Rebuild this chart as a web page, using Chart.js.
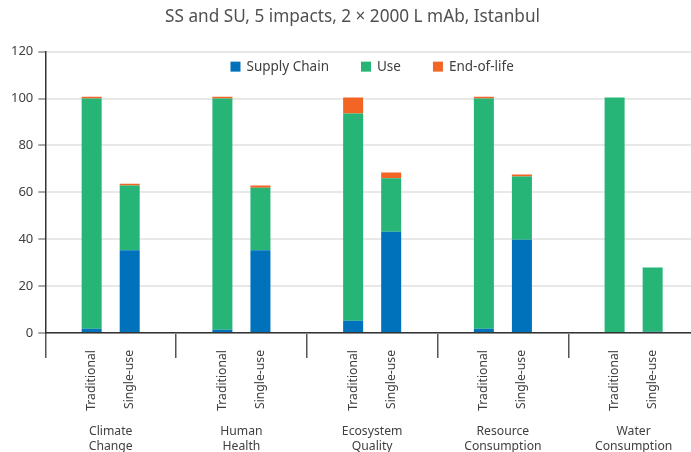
<!DOCTYPE html>
<html>
<head>
<meta charset="utf-8">
<script src="https://cdn.jsdelivr.net/npm/chart.js@4"></script>
<style>
  html, body { margin: 0; padding: 0; background: #fff; overflow: hidden; }
  #wrap { width: 700px; height: 452px; }
</style>
</head>
<body>
<div id="wrap"><canvas id="impactChart" width="700" height="452"></canvas></div>
<script>
const categories = [["Climate", "Change"], ["Human", "Health"], ["Ecosystem", "Quality"], ["Resource", "Consumption"], ["Water", "Consumption"]];
const systems = ["Traditional", "Single-use"];
const phases = ["Supply Chain", "Use", "End-of-life"];

const tradSupply = [1.8, 1.4, 5.2, 1.8, 0];
const tradUse = [98.2, 98.6, 88.4, 98.2, 100.4];
const tradEol = [0.8, 0.8, 6.8, 0.8, 0];

const suSupply = [35.3, 35.3, 43.2, 39.8, 0.5];
const suUse = [27.6, 26.6, 22.8, 26.9, 27.4];
const suEol = [0.8, 1.0, 2.4, 0.9, 0];

const yTicks = [0, 20, 40, 60, 80, 100, 120];

const colors = ["#0071bb", "#27b577", "#f26524"];
const FONT = "'Noto Sans', 'Open Sans', sans-serif";

function makeSet(label, data, color, stack) {
    return {
        label: label,
        data: data,
        backgroundColor: color,
        stack: stack,
        categoryPercentage: 0.582,
        barPercentage: 0.526
    };
}

const datasets = [
    makeSet(phases[0], tradSupply, colors[0], systems[0]),
    makeSet(phases[1], tradUse, colors[1], systems[0]),
    makeSet(phases[2], tradEol, colors[2], systems[0]),
    makeSet(phases[0], suSupply, colors[0], systems[1]),
    makeSet(phases[1], suUse, colors[1], systems[1]),
    makeSet(phases[2], suEol, colors[2], systems[1])
];

// legend drawn inside the plot area, plus rotated system labels under each bar
const extras = {
    id: "extras",
    afterDraw(chart) {
        const ctx = chart.ctx;
        const area = chart.chartArea;
        ctx.save();

        // legend
        ctx.font = "13.5px " + FONT;
        ctx.textBaseline = "middle";
        ctx.textAlign = "left";
        const box = 10, gapText = 6, gapItem = 32;
        let total = 0;
        phases.forEach((p, i) => {
            total += box + gapText + ctx.measureText(p).width + (i < phases.length - 1 ? gapItem : 0);
        });
        let x = (area.left + area.right) / 2 - total / 2;
        const ly = area.top + 15;
        phases.forEach((p, i) => {
            ctx.fillStyle = colors[i];
            ctx.fillRect(x, ly - box / 2, box, box);
            x += box + gapText;
            ctx.fillStyle = "#404040";
            ctx.fillText(p, x, ly + 1);
            x += ctx.measureText(p).width + gapItem;
        });

        // system labels
        ctx.font = "12.2px " + FONT;
        ctx.fillStyle = "#404040";
        ctx.textAlign = "right";
        ctx.textBaseline = "middle";
        [0, 3].forEach((dsIndex, s) => {
            chart.getDatasetMeta(dsIndex).data.forEach(bar => {
                ctx.save();
                ctx.translate(bar.x, area.bottom + 17);
                ctx.rotate(-Math.PI / 2);
                ctx.fillText(systems[s], 0, 0);
                ctx.restore();
            });
        });
        ctx.restore();
    }
};

new Chart(document.getElementById("impactChart"), {
    type: "bar",
    data: {
        labels: categories,
        datasets: datasets
    },
    plugins: [extras],
    options: {
        responsive: false,
        animation: false,
        layout: { padding: { left: 6, right: 1, top: 0, bottom: 0 } },
        plugins: {
            legend: { display: false },
            tooltip: { enabled: false },
            title: {
                display: true,
                text: "SS and SU, 5 impacts, 2 × 2000 L mAb, Istanbul",
                color: "#505050",
                font: { family: FONT, size: 17.2, weight: "normal", lineHeight: 1.2 },
                padding: { top: 7, bottom: 24 }
            }
        },
        scales: {
            x: {
                stacked: true,
                afterFit(axis) {
                    axis.paddingLeft = 0;
                    axis.paddingRight = 0;
                    axis.height = 119;
                },
                grid: {
                    display: true,
                    drawOnChartArea: false,
                    drawTicks: true,
                    tickLength: 25,
                    color: "#555",
                    lineWidth: 1.5
                },
                border: { display: true, color: "#333", width: 1.5 },
                ticks: {
                    color: "#404040",
                    padding: 66,
                    maxRotation: 0,
                    font: { family: FONT, size: 12.2, lineHeight: 1.25 }
                }
            },
            y: {
                stacked: true,
                min: 0,
                max: 120,
                afterBuildTicks(axis) {
                    axis.ticks = yTicks.map(v => ({ value: v }));
                },
                grid: {
                    color: "#e8e8e8",
                    lineWidth: 2,
                    drawTicks: true,
                    tickLength: 7,
                    tickColor: "#555",
                    tickWidth: 1
                },
                border: { display: true, color: "#333", width: 1.5 },
                ticks: {
                    color: "#404040",
                    padding: 5,
                    font: { family: FONT, size: 13 }
                }
            }
        }
    }
});
</script>
</body>
</html>
